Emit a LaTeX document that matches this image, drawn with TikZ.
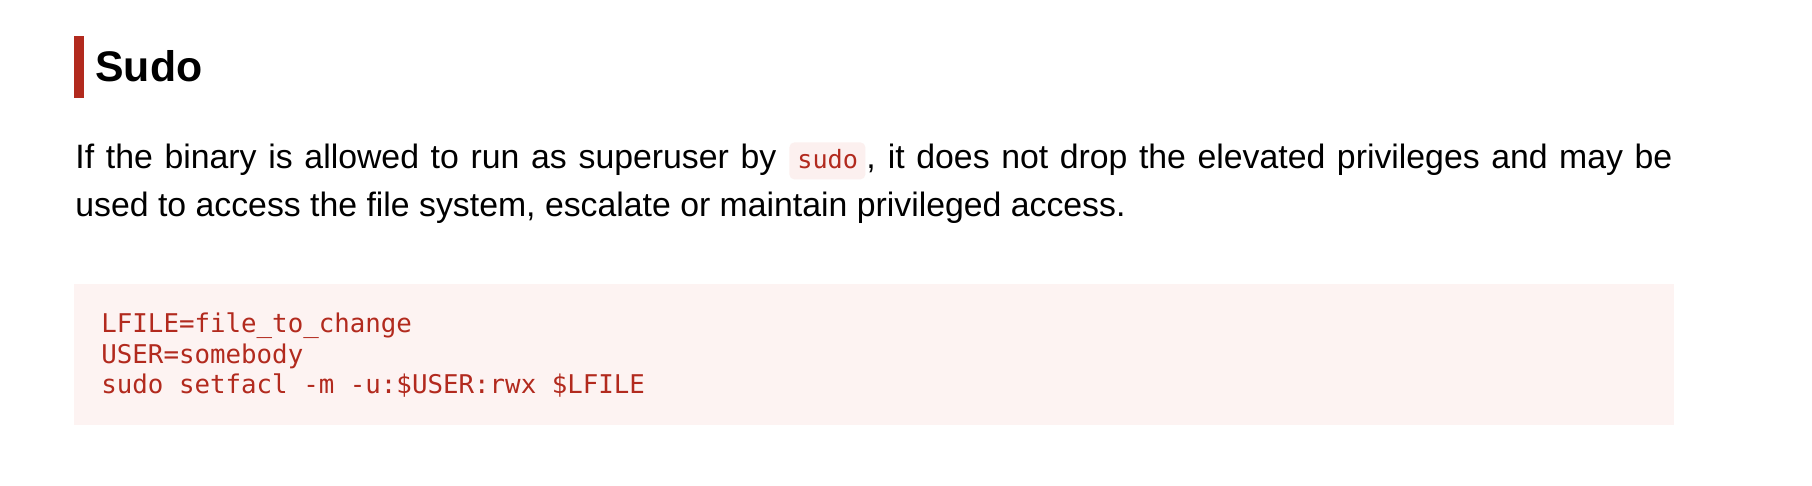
\documentclass[tikz,border=0pt]{standalone}
\usepackage{fontspec}
\setmainfont{Liberation Sans}
\newfontfamily\codefont{DejaVu Sans Mono}
\definecolor{accent}{HTML}{B22A1E}
\definecolor{codered}{HTML}{B22A1E}
\definecolor{codebg}{HTML}{FDF3F2}
\definecolor{inlinebg}{HTML}{FCF0EF}
\begin{document}
\begin{tikzpicture}[x=0.5pt,y=-0.5pt,
  body/.style={inner sep=0pt, anchor=base west, font=\fontsize{16.9pt}{20pt}\selectfont, text=black},
  codetext/.style={inner sep=0pt, anchor=base west, font=\codefont\fontsize{12.9pt}{15pt}\selectfont, text=codered}]
\useasboundingbox[fill=white] (0,0) rectangle (1812,486);
% heading
\node[fill=accent, inner sep=0pt, minimum width=5pt, minimum height=31pt, anchor=north west] (bar) at (74,36) {};
\node[anchor=base west, inner sep=0pt, font=\bfseries\fontsize{21.4pt}{24pt}\selectfont] (title) at (95,82) {Sudo};
% paragraph
\node[body] (l1a) at (75,169) {\hbox to 350.5pt{If the binary is allowed to run as superuser by}};
\node[fill=inlinebg, rounded corners=2.5pt, inner sep=0pt, minimum width=38pt, minimum height=18.5pt, anchor=north west] (inl) at (789,142) {};
\node[codetext, font=\codefont\fontsize{12.6pt}{15pt}\selectfont] (inltext) at (797,169) {sudo};
\node[body] (l1b) at (866,169) {\hbox to 403pt{, it does not drop the elevated privileges and may be}};
\node[body] (l2) at (75,217) {used to access the file system, escalate or maintain privileged access.};
% code block
\node[fill=codebg, inner sep=0pt, minimum width=800pt, minimum height=70.5pt, anchor=north west] (codebox) at (74,284) {};
\node[codetext] (c1) at (101,333) {LFILE=file\_to\_change};
\node[codetext] (c2) at (101,364) {USER=somebody};
\node[codetext] (c3) at (101,394) {sudo setfacl -m -u:\$USER:rwx \$LFILE};
\end{tikzpicture}
\end{document}
